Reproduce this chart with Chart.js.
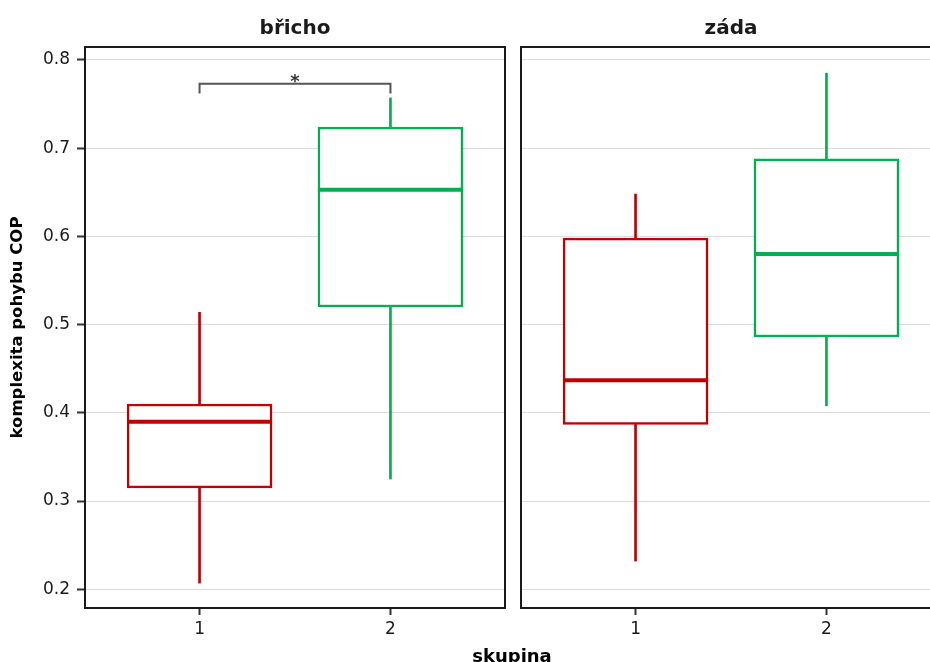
<!DOCTYPE html>
<html>
<head>
<meta charset="utf-8">
<title>komplexita pohybu COP</title>
<script src="https://cdn.jsdelivr.net/npm/chart.js@4/dist/chart.umd.min.js"></script>
<style>
  html, body { margin: 0; padding: 0; width: 930px; height: 662px; overflow: hidden; background: #fff; }
  .panel { position: absolute; top: 0; height: 662px; }
  #p1 { left: 0; width: 510px; }
  #p2 { left: 517px; width: 430px; }
  .strip { position: absolute; top: 17px; font: bold 20px "DejaVu Sans", sans-serif; line-height: 20px;
           color: #1a1a1a; transform: translateX(-50%); white-space: nowrap; }
  #xtitle { position: absolute; left: 512px; top: 647px; font: bold 18px "DejaVu Sans", sans-serif;
            line-height: 18px; color: #000; transform: translateX(-50%); white-space: nowrap; }
</style>
</head>
<body>
<div class="panel" id="p1"><canvas id="c1"></canvas></div>
<div class="panel" id="p2"><canvas id="c2"></canvas></div>
<div class="strip" id="s1" style="left:295px">břicho</div>
<div class="strip" id="s2" style="left:731px">záda</div>
<div id="xtitle">skupina</div>

<script>
// x categories (skupina) and their numeric positions on the axis
const groups = ['1', '2'];
const groupX = [1, 2];

// facet names
const panels = ['břicho', 'záda'];

// y-axis tick values
const yTicks = [0.2, 0.3, 0.4, 0.5, 0.6, 0.7, 0.8];

// box statistics, facet "břicho" (group 1, group 2)
const brichoLow    = [0.207, 0.325];
const brichoQ1     = [0.315, 0.520];
const brichoMedian = [0.390, 0.653];
const brichoQ3     = [0.410, 0.724];
const brichoHigh   = [0.514, 0.757];

// box statistics, facet "záda" (group 1, group 2)
const zadaLow    = [0.232, 0.408];
const zadaQ1     = [0.387, 0.486];
const zadaMedian = [0.437, 0.580];
const zadaQ3     = [0.598, 0.688];
const zadaHigh   = [0.648, 0.785];

// significance bracket between groups 1 and 2 in "břicho"
const sigPair = [1, 2];
const sigLabel = '*';

// styling
const groupColors = ['#C00000', '#00B050'];
const Y_MIN = 0.1788, Y_MAX = 0.8147;
const BOX_WIDTH = 145;
const FONT = 'DejaVu Sans';

// black frame around each panel's plotting area
const framePlugin = {
  id: 'panelFrame',
  afterDraw(chart) {
    const { ctx, chartArea: a } = chart;
    ctx.save();
    ctx.strokeStyle = '#1a1a1a';
    ctx.lineWidth = 2;
    ctx.strokeRect(a.left, a.top, a.right - a.left, a.bottom - a.top);
    ctx.restore();
  }
};

// bracket with the significance mark above it
const sigPlugin = {
  id: 'sigBracket',
  afterDatasetsDraw(chart) {
    const { ctx, scales: { x, y } } = chart;
    const x1 = x.getPixelForValue(sigPair[0]);
    const x2 = x.getPixelForValue(sigPair[1]);
    const yb = y.getPixelForValue(0.773);
    const yd = y.getPixelForValue(0.762);
    ctx.save();
    ctx.strokeStyle = '#555';
    ctx.lineWidth = 2;
    ctx.beginPath();
    ctx.moveTo(x1, yd);
    ctx.lineTo(x1, yb);
    ctx.lineTo(x2, yb);
    ctx.lineTo(x2, yd);
    ctx.stroke();
    ctx.fillStyle = '#333';
    ctx.font = 'bold 18px "' + FONT + '"';
    ctx.textAlign = 'center';
    ctx.textBaseline = 'alphabetic';
    ctx.fillText(sigLabel, (x1 + x2) / 2, yb + 3);
    ctx.restore();
  }
};

function panelChart(canvasId, s, showY, pad, extraPlugins) {
  const range = (a, b) => groupX.map((x, i) => ({ x, y: [a[i], b[i]] }));
  const pts = v => groupX.map((x, i) => ({ x, y: v[i] }));
  return new Chart(document.getElementById(canvasId), {
    type: 'bar',
    data: {
      datasets: [
        // lower and upper whiskers
        { data: range(s.low, s.q1), backgroundColor: groupColors, borderWidth: 0,
          barThickness: 2, grouped: false, order: 3 },
        { data: range(s.q3, s.high), backgroundColor: groupColors, borderWidth: 0,
          barThickness: 2, grouped: false, order: 3 },
        // interquartile box
        { data: range(s.q1, s.q3), backgroundColor: '#ffffff', borderColor: groupColors,
          borderWidth: 2.5, borderSkipped: false, barThickness: BOX_WIDTH, grouped: false, order: 2 },
        // median bar
        { type: 'line', data: pts(s.median), showLine: false, pointStyle: 'line',
          pointRadius: BOX_WIDTH / 2, pointBorderWidth: 4,
          pointBorderColor: groupColors, pointBackgroundColor: groupColors, order: 1 }
      ]
    },
    options: {
      responsive: true,
      maintainAspectRatio: false,
      animation: false,
      events: [],
      layout: { padding: pad, autoPadding: false },
      plugins: { legend: { display: false }, tooltip: { enabled: false }, title: { display: false } },
      scales: {
        x: {
          type: 'linear', min: 0.4, max: 2.6, offset: false,
          afterBuildTicks: sc => { sc.ticks = groupX.map(v => ({ value: v })); },
          afterFit: sc => { sc.height = 54; },
          ticks: {
            callback: v => groups[groupX.indexOf(v)],
            font: { family: FONT, size: 17 }, color: '#1a1a1a',
            padding: 4, maxRotation: 0, autoSkip: false
          },
          grid: { offset: false, drawOnChartArea: false, drawTicks: true, tickLength: 7, tickWidth: 2, tickColor: '#333' },
          border: { display: false }
        },
        y: {
          type: 'linear', min: Y_MIN, max: Y_MAX,
          afterBuildTicks: sc => { sc.ticks = yTicks.map(v => ({ value: v })); },
          afterFit: sc => { sc.width = showY ? 85 : 0; },
          ticks: {
            display: showY,
            callback: v => Number(v).toFixed(1),
            font: { family: FONT, size: 17 }, color: '#1a1a1a', padding: 7
          },
          grid: { color: '#dcdcdc', lineWidth: 1, drawTicks: showY, tickLength: 8, tickWidth: 2, tickColor: '#333' },
          border: { display: false },
          title: {
            display: showY, text: 'komplexita pohybu COP', color: '#000',
            font: { family: FONT, size: 16.5, weight: 'bold' }, padding: { top: 8, bottom: 0 }
          }
        }
      }
    },
    plugins: [framePlugin].concat(extraPlugins)
  });
}

panelChart('c1',
  { low: brichoLow, q1: brichoQ1, median: brichoMedian, q3: brichoQ3, high: brichoHigh },
  true, { left: 0, right: 5, top: 47, bottom: 0 }, [sigPlugin]);

panelChart('c2',
  { low: zadaLow, q1: zadaQ1, median: zadaMedian, q3: zadaQ3, high: zadaHigh },
  false, { left: 4, right: 6, top: 47, bottom: 0 }, []);
</script>
</body>
</html>
